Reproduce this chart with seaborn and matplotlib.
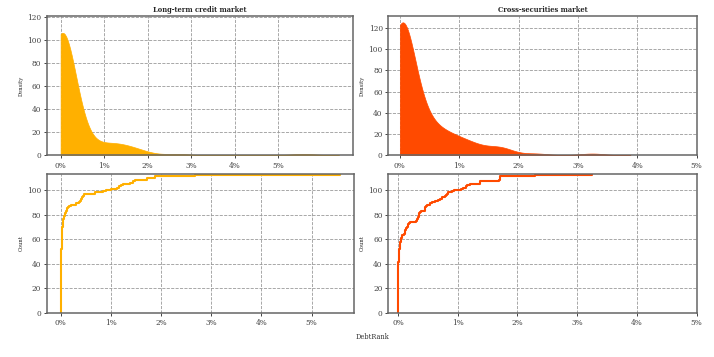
import numpy as np
import pandas as pd
import matplotlib
matplotlib.use("Agg")
import matplotlib.pyplot as plt
from matplotlib.ticker import PercentFormatter
import seaborn as sns

# DebtRank values (in percent)
long_term_pct = [
    0.000, 0.000, 0.000, 0.001, 0.001, 0.001, 0.001, 0.002, 0.002, 0.002,
    0.002, 0.002, 0.003, 0.003, 0.003, 0.003, 0.004, 0.004, 0.004, 0.004,
    0.005, 0.005, 0.005, 0.005, 0.006, 0.006, 0.006, 0.006, 0.007, 0.007,
    0.007, 0.007, 0.008, 0.008, 0.008, 0.008, 0.009, 0.009, 0.009, 0.010,
    0.010, 0.010, 0.011, 0.011, 0.012, 0.012, 0.013,
    0.014, 0.014, 0.015, 0.016, 0.016, 0.017, 0.018, 0.019, 0.020, 0.021,
    0.022, 0.023, 0.024, 0.025, 0.026,
    0.027, 0.028, 0.029, 0.030, 0.031, 0.032, 0.033, 0.035, 0.038,
    0.041, 0.044, 0.048, 0.052, 0.055, 0.059,
    0.065, 0.072, 0.080, 0.090,
    0.100, 0.112, 0.125,
    0.135, 0.147, 0.158,
    0.21, 0.31, 0.36, 0.38, 0.40, 0.41, 0.43, 0.45, 0.46, 0.47,
    0.69, 0.84, 0.90, 1.00, 1.13, 1.16, 1.20, 1.24, 1.38, 1.45,
    1.48, 1.71, 1.72, 1.88, 2.68, 5.57,
]

cross_sec_pct = [
    0.000, 0.000, 0.000, 0.000, 0.000, 0.000, 0.001, 0.001, 0.001, 0.001,
    0.001, 0.001, 0.001, 0.002, 0.002, 0.002, 0.002, 0.002, 0.002, 0.002,
    0.003, 0.003, 0.003, 0.003, 0.003, 0.003, 0.004, 0.004, 0.004, 0.004,
    0.004, 0.005, 0.005, 0.005, 0.005, 0.005, 0.006, 0.006,
    0.007, 0.007, 0.008, 0.009, 0.010, 0.011, 0.012, 0.013, 0.014, 0.015,
    0.016, 0.017,
    0.020, 0.023, 0.026, 0.029, 0.032, 0.034, 0.037, 0.039,
    0.045, 0.050, 0.055, 0.061, 0.067,
    0.100,
    0.110, 0.115, 0.122,
    0.130, 0.140, 0.150,
    0.160, 0.170, 0.178,
    0.194,
    0.300, 0.320, 0.328,
    0.340, 0.345, 0.350, 0.356,
    0.370, 0.383,
    0.450, 0.455, 0.460, 0.467, 0.480,
    0.530, 0.567,
    0.622,
    0.678,
    0.710, 0.733,
    0.789,
    0.800, 0.820, 0.844,
    0.900, 0.944,
    1.056, 1.083,
    1.140, 1.161,
    1.200,
    1.370, 1.380,
    1.690, 1.700, 1.700, 1.710,
    2.290, 3.240,
]

titles = ["Long-term credit market", "Cross-securities market"]
colors = ["#FFB000", "#FF4A00"]
bw_adjusts = [1.12, 1.0]
cuts = [2.7, 3.0]
xtick_vals = [0, 1, 2, 3, 4, 5]

sns.set_theme(style="whitegrid")
plt.rcParams.update({
    "font.family": ["DejaVu Serif"],
    "axes.edgecolor": "#666666",
    "axes.linewidth": 1.1,
    "grid.color": "#9a9a9a",
    "grid.linestyle": "--",
    "grid.linewidth": 0.6,
    "xtick.bottom": True,
    "ytick.left": True,
    "xtick.color": "#444444",
    "ytick.color": "#444444",
    "xtick.major.size": 2.5,
    "ytick.major.size": 2.5,
    "xtick.major.width": 0.7,
    "ytick.major.width": 0.7,
    "xtick.major.pad": 2,
    "ytick.major.pad": 1.5,
    "xtick.labelsize": 5.3,
    "ytick.labelsize": 5.3,
    "axes.labelsize": 3.8,
    "axes.titlesize": 4.9,
})

fig = plt.figure(figsize=(7.14, 3.57), dpi=100)
W, H = 714, 357

def add_ax(l, r, t, b):
    return fig.add_axes([l / W, 1 - b / H, (r - l) / W, (b - t) / H])

ax_tl = add_ax(46.7, 353.0, 15.7, 155.3)
ax_tr = add_ax(388.3, 696.7, 15.7, 155.3)
ax_bl = add_ax(46.7, 354.3, 174.0, 312.7)
ax_br = add_ax(388.3, 696.7, 174.0, 312.7)

datasets = [np.array(long_term_pct) / 100, np.array(cross_sec_pct) / 100]

for i, (data, color, title) in enumerate(zip(datasets, colors, titles)):
    top = [ax_tl, ax_tr][i]
    bot = [ax_bl, ax_br][i]
    df = pd.DataFrame({"DebtRank": data})
    sns.kdeplot(data=df, x="DebtRank", fill=True, clip=(0, None),
                bw_adjust=bw_adjusts[i], cut=cuts[i],
                color=color, alpha=1.0, linewidth=0.5, ax=top)
    sns.ecdfplot(data=df, x="DebtRank", stat="count", color=color,
                 linewidth=1.5, ax=bot)
    top.set_title(title, fontweight="bold", pad=2.5)
    top.set_ylabel("Density", labelpad=2.5)
    bot.set_ylabel("Count", labelpad=2.5)
    for ax in (top, bot):
        ax.set_xlabel("")
        ax.set_xticks([v / 100 for v in xtick_vals])
        ax.xaxis.set_major_formatter(PercentFormatter(1, decimals=0))
        ax.grid(True)
        for s in ax.spines.values():
            s.set_color("#666666")
            s.set_linewidth(1.1)

ax_tl.set_ylim(0, 121)
ax_tr.set_xlim(right=0.05)
ax_br.set_xlim(right=0.05)

fig.text(372 / W, 1 - 337 / H, "DebtRank", ha="center", va="center",
         fontsize=4.8, color="#333333")

fig.savefig("out.png", dpi=100)
